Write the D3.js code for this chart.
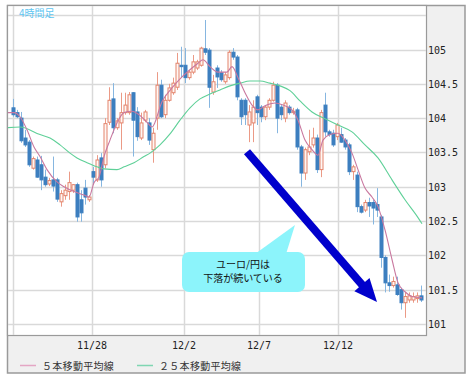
<!DOCTYPE html>
<html><head><meta charset="utf-8">
<script src="https://cdn.jsdelivr.net/npm/d3@7/dist/d3.min.js"></script>
<style>body{margin:0;background:#fff;} svg{display:block;}</style>
</head><body><svg id="c" width="470" height="380"></svg>
<script>
// ---------- data ----------
const title = "4時間足";
const yTicks = [101, 101.5, 102, 102.5, 103, 103.5, 104, 104.5, 105];
const yGridExtra = [105.5];
const xTickBars = [0, 19.75, 42.75, 61.5, 81.25];
const xTickLabels = ["", "11/28", "12/2", "12/7", "12/12"];

const open = [104.15,104.08,104.00,103.71,103.65,103.27,103.39,103.32,103.14,103.04,
103.10,103.10,102.78,102.87,102.93,102.95,103.03,102.81,102.98,102.81,
103.22,103.10,103.42,103.32,103.94,104.28,103.86,103.93,104.08,104.08,
104.37,104.09,103.71,103.97,103.93,103.54,104.00,104.48,104.05,104.26,
104.37,104.45,104.77,104.77,104.59,104.67,104.73,104.77,105.01,104.99,
104.38,104.73,104.66,104.53,104.59,104.96,104.89,104.26,104.26,103.90,
103.93,104.31,104.16,104.02,104.16,104.26,104.48,104.16,104.00,104.16,
104.08,104.12,103.58,103.20,103.51,103.61,103.71,103.25,104.19,103.80,
103.78,103.73,103.76,103.68,103.61,103.22,103.17,102.71,102.66,102.77,
102.77,102.74,102.56,101.97,101.60,101.56,101.57,101.50,101.31,101.35,
101.35,101.37,101.41];
const close = [104.05,104.02,103.67,103.61,103.32,103.41,103.14,103.10,103.03,103.09,
103.01,102.82,102.90,102.95,103.06,103.03,102.56,102.62,102.85,102.85,
103.14,103.39,103.10,103.92,104.26,103.86,103.96,104.08,104.19,104.34,
103.97,103.73,103.93,104.09,103.68,103.78,104.48,104.02,104.26,104.44,
104.51,104.80,104.75,104.59,104.67,104.82,104.82,105.02,104.96,104.45,
104.53,104.60,104.56,104.63,104.96,104.89,104.31,104.02,104.05,104.09,
104.16,104.08,104.02,104.16,104.26,104.48,104.00,104.05,104.22,104.08,
104.10,103.58,103.20,103.54,103.58,103.71,103.25,104.08,103.80,103.76,
103.61,103.90,103.65,103.58,103.22,103.29,102.71,102.63,102.77,102.72,
102.69,102.66,101.97,101.60,101.56,101.62,101.43,101.31,101.40,101.41,
101.40,101.41,101.35];
const high = [104.28,104.12,104.09,103.83,103.68,103.44,103.44,103.45,103.25,103.13,
103.44,103.13,102.95,103.03,103.22,103.04,103.06,102.95,103.10,102.88,
103.29,103.46,103.49,104.00,104.45,104.51,104.00,104.37,104.37,104.38,
104.38,104.16,104.08,104.12,104.00,103.86,104.67,104.56,104.34,104.50,
104.59,104.95,105.04,105.02,104.70,104.92,104.85,105.04,105.43,105.02,
104.63,104.77,104.70,104.67,104.99,105.02,104.92,104.29,104.29,104.19,
104.26,104.34,104.19,104.19,104.29,104.53,104.51,104.19,104.26,104.19,
104.15,104.15,103.61,103.57,103.83,103.86,103.76,104.12,104.37,103.83,
103.83,103.93,103.86,103.71,103.64,103.32,103.22,102.74,102.81,102.84,
102.81,102.98,102.59,102.00,101.72,101.69,101.69,101.53,101.46,101.46,
101.46,101.46,101.56];
const low = [104.02,104.00,103.64,103.58,103.29,103.25,103.13,102.95,103.00,103.01,
102.93,102.78,102.71,102.81,102.81,102.91,102.49,102.49,102.74,102.78,
103.03,103.07,103.00,103.27,103.90,103.78,103.83,103.54,104.05,104.05,
103.44,103.67,103.68,103.94,103.61,103.35,103.83,104.00,104.00,104.24,
104.34,104.41,104.59,104.51,104.56,104.64,104.70,104.75,104.92,104.15,
104.34,104.44,104.53,104.50,104.56,104.85,104.26,103.90,103.90,103.65,
103.65,103.90,103.94,103.97,104.12,104.24,103.78,103.97,103.94,104.05,
104.05,103.54,103.00,103.10,103.46,103.57,103.20,103.14,103.73,103.73,
103.58,103.68,103.64,103.54,103.17,103.10,102.63,102.61,102.63,102.56,
102.45,102.56,101.82,101.46,101.47,101.53,101.41,101.21,101.09,101.31,
101.31,101.31,101.32];

// moving averages: [bar, value]
const ma5 = [[-1.5,104.08],[0.25,104.08],[1.75,104.02],[3.5,103.83],[5.25,103.58],[6.75,103.44],
[8.5,103.25],[11,103.07],[12.75,103.00],[15.25,102.93],[17.75,102.88],[19,102.85],[20.25,103.06],
[21.5,103.14],[22.75,103.44],[24.25,103.68],[26,103.93],[27.75,104.08],[29.75,104.10],[31.5,104.05],
[33.5,103.94],[34.75,103.87],[37.25,104.24],[39.75,104.44],[42.25,104.60],[44.75,104.73],[46.25,104.80],
[47.5,104.85],[49.25,104.75],[51.25,104.67],[53.5,104.67],[54.75,104.75],[56.25,104.59],[58,104.37],
[59.75,104.19],[61.25,104.12],[63,104.18],[65.5,104.22],[67.5,104.19],[69.75,104.12],[71.25,103.97],
[73,103.68],[74.75,103.54],[76.25,103.46],[77.5,103.68],[79.25,103.76],[81.25,103.78],[83,103.68],
[84.75,103.49],[86.25,103.25],[88,102.98],[89.75,102.85],[91.25,102.71],[93,102.37],[94.75,101.94],
[96.25,101.60],[98,101.47],[99.75,101.40],[102.25,101.38]];
const ma25 = [[-1.5,103.86],[1.75,103.87],[6.75,103.76],[9.25,103.71],[11.75,103.61],[14.25,103.49],
[16,103.42],[18.5,103.35],[21,103.29],[22.75,103.26],[26,103.25],[27.75,103.29],[30.25,103.35],
[32.75,103.44],[34.25,103.49],[36.75,103.61],[39.25,103.77],[41.75,103.97],[44.25,104.15],[46.75,104.28],
[49.25,104.35],[51.75,104.41],[54.25,104.47],[56.75,104.51],[59.25,104.54],[61.75,104.54],[64.25,104.51],
[66.75,104.47],[69.25,104.40],[71.75,104.25],[74.75,104.09],[78,103.99],[81.25,103.90],[84.75,103.80],
[88,103.61],[91.25,103.42],[94.75,103.10],[98,102.81],[101.25,102.55],[102.25,102.46]];

const legendLabels = ["５本移動平均線", "２５本移動平均線"];
const noteLines = ["ユーロ/円は", "下落が続いている"];
// arrow from / to, in [bar, price]
const arrowFrom = [58.5, 103.51];
const arrowTo = [91, 101.32];

// ---------- drawing ----------
const svg = d3.select("#c");
const P = {l: 7, r: 426, t: 5, b: 335};
const x = d3.scaleLinear().domain([0, close.length - 1]).range([13, 421]);
const y = d3.scaleLinear().domain([101, 105]).range([324, 49.5]);

// outer frame
svg.append("rect").attr("x", 7.5).attr("y", 5.5).attr("width", 457.5).attr("height", 367.5)
  .attr("fill", "#f0f0f0").attr("stroke", "#9a9a9a").attr("stroke-width", 1.5);
svg.append("rect").attr("x", P.l + 0.5).attr("y", P.t + 0.5).attr("width", P.r - P.l).attr("height", P.b - P.t)
  .attr("fill", "#fff").attr("stroke", "#9a9a9a").attr("stroke-width", 1.2);

svg.append("defs").append("clipPath").attr("id", "clip").append("rect")
  .attr("x", P.l + 1).attr("y", P.t + 1).attr("width", P.r - P.l - 1).attr("height", P.b - P.t - 1);

const g = svg.append("g").attr("clip-path", "url(#clip)");

// grid
g.selectAll("line.hg").data(yTicks.concat(yGridExtra)).join("line")
  .attr("x1", P.l).attr("x2", P.r).attr("y1", d => Math.round(y(d)) + 0.5).attr("y2", d => Math.round(y(d)) + 0.5)
  .attr("stroke", "#d9d9d9").attr("stroke-width", 1.5);
g.selectAll("line.vg").data(xTickBars).join("line")
  .attr("x1", d => Math.round(x(d)) + 0.5).attr("x2", d => Math.round(x(d)) + 0.5).attr("y1", P.t).attr("y2", P.b)
  .attr("stroke", "#d9d9d9").attr("stroke-width", 1.5);

// candles
const idx = d3.range(close.length);
const upC = "#e3846c", dnC = "#3c7fbf", dnW = "#86b6e0";
g.selectAll("line.wick").data(idx).join("line")
  .attr("x1", i => Math.round(x(i)) + 0.5).attr("x2", i => Math.round(x(i)) + 0.5)
  .attr("y1", i => y(high[i])).attr("y2", i => y(low[i]))
  .attr("stroke", i => close[i] >= open[i] ? "#eb9a86" : dnW).attr("stroke-width", 1);
g.selectAll("rect.body").data(idx).join("rect")
  .attr("x", i => Math.round(x(i)) - 1)
  .attr("width", 3)
  .attr("y", i => y(Math.max(open[i], close[i])))
  .attr("height", i => Math.max(1, Math.abs(y(open[i]) - y(close[i]))))
  .attr("fill", i => close[i] >= open[i] ? "#fff6f3" : dnC)
  .attr("stroke", i => close[i] >= open[i] ? upC : dnC)
  .attr("stroke-width", 1);

// moving averages
const line = d3.line().x(d => x(d[0])).y(d => y(d[1])).curve(d3.curveMonotoneX);
g.append("path").datum(ma25).attr("d", line).attr("fill", "none").attr("stroke", "#5fd098").attr("stroke-width", 1.1);
g.append("path").datum(ma5).attr("d", line).attr("fill", "none").attr("stroke", "#c9789f").attr("stroke-width", 1.1);

// title
svg.append("text").attr("x", 19).attr("y", 17).text(title)
  .attr("font-family", "'Noto Sans CJK JP', sans-serif").attr("font-size", 10).attr("fill", "#5ec6f2");

// y axis labels
svg.selectAll("text.yl").data(yTicks).join("text")
  .attr("x", 428).attr("y", d => y(d) + 4).text(d => d)
  .attr("font-family", "'DejaVu Sans Mono', monospace").attr("font-size", 10).attr("fill", "#222");

// x axis labels
svg.selectAll("text.xl").data(xTickBars).join("text")
  .attr("x", d => x(d)).attr("y", 349).attr("text-anchor", "middle").text((d, i) => xTickLabels[i])
  .attr("font-family", "'DejaVu Sans Mono', monospace").attr("font-size", 10).attr("fill", "#222");

// legend
const legColors = ["#e4a6c4", "#7fd6b2"];
const legX = [20, 137];
legendLabels.forEach((lab, i) => {
  svg.append("line").attr("x1", legX[i]).attr("x2", legX[i] + 16).attr("y1", 365.5).attr("y2", 365.5)
    .attr("stroke", legColors[i]).attr("stroke-width", 1.5);
  svg.append("text").attr("x", legX[i] + 22).attr("y", 369.5).text(lab)
    .attr("font-family", "'Noto Sans CJK JP', sans-serif").attr("font-size", 10)
    .attr("letter-spacing", 0.3).attr("fill", "#333");
});

// callout
const note = svg.append("g");
note.append("path").attr("d", "M255,254 L286,254 L295,225 Z").attr("fill", "#8cf4fb");
note.append("rect").attr("x", 182).attr("y", 252).attr("width", 123).attr("height", 40).attr("rx", 7)
  .attr("fill", "#8cf4fb");
noteLines.forEach((t, i) => {
  note.append("text").attr("x", 243).attr("y", 268 + i * 14).attr("text-anchor", "middle").text(t)
    .attr("font-family", "'Noto Sans CJK JP', sans-serif").attr("font-size", 10).attr("fill", "#111");
});

// arrow
const ax0 = x(arrowFrom[0]), ay0 = y(arrowFrom[1]), ax1 = x(arrowTo[0]), ay1 = y(arrowTo[1]);
const dx = ax1 - ax0, dy = ay1 - ay0, L = Math.hypot(dx, dy), ux = dx / L, uy = dy / L;
const headLen = 23, headHalf = 10;
const bx = ax1 - ux * headLen, by = ay1 - uy * headLen;
svg.append("line").attr("x1", ax0).attr("y1", ay0).attr("x2", bx + ux * 2).attr("y2", by + uy * 2)
  .attr("stroke", "#0000cc").attr("stroke-width", 8);
svg.append("path").attr("d", `M${ax1},${ay1} L${bx - uy * headHalf},${by + ux * headHalf} L${bx + uy * headHalf},${by - ux * headHalf} Z`)
  .attr("fill", "#0000cc");
</script></body></html>
